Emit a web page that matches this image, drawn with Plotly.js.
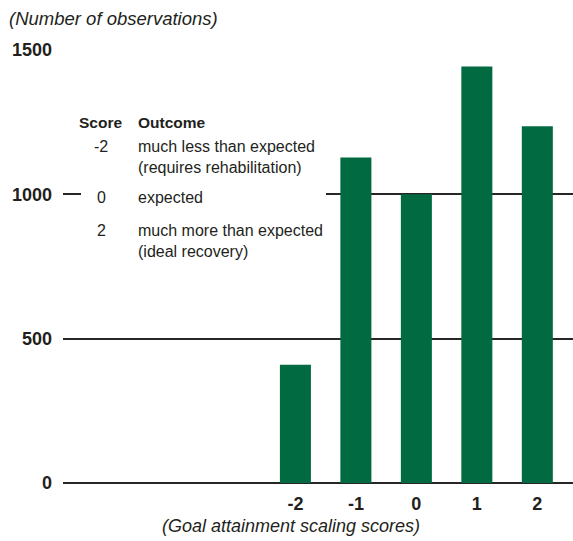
<!DOCTYPE html>
<html>
<head>
<meta charset="utf-8">
<script src="https://cdn.plot.ly/plotly-3.0.1.min.js"></script>
<style>html,body{margin:0;padding:0;background:#fff;}#chart{width:573px;height:541px;}</style>
</head>
<body>
<div id="chart"></div>
<script>
// Data
const scores = [-2, -1, 0, 1, 2];
const observations = [410, 1128, 1000, 1443, 1236];
const yTicks = [0, 500, 1000, 1500];
const yTickLabels = ['0', '500', '1000', '1500'];
const yTitle = '(Number of observations)';
const xTitle = '(Goal attainment scaling scores)';
const legendHeader = ['Score', 'Outcome'];
const legendScores = ['-2', '0', '2'];
const legendOutcomes = [
  ['much less than expected', '(requires rehabilitation)'],
  ['expected'],
  ['much more than expected', '(ideal recovery)']
];

const FONT = '"Liberation Sans", Arial, Helvetica, sans-serif';
const TXT = '#231f20';
const LINE = '#262626';
const W = 573, H = 541;
const M = {l: 63, r: 0, t: 50, b: 58};
const PW = W - M.l - M.r, PH = H - M.t - M.b;
const px = x => (x - M.l) / PW;
const py = y => (H - M.b - y) / PH;

const annotations = [];
function txt(text, x, y, opts) {
  annotations.push(Object.assign({
    text: text, xref: 'paper', yref: 'paper', x: px(x), y: py(y),
    xanchor: 'left', yanchor: 'middle', showarrow: false,
    font: {family: FONT, size: 16, color: TXT}
  }, opts || {}));
}
const bold = {family: FONT, size: 15.5, color: TXT};
// legend table
txt('<b>' + legendHeader[0] + '</b>', 100, 123, {xanchor: 'center', font: bold});
txt('<b>' + legendHeader[1] + '</b>', 136, 123, {font: bold});
const rowY = [[146, 167], [198], [230, 251]];
legendScores.forEach((s, i) => {
  txt(s, 101, rowY[i][0], {xanchor: 'center'});
  legendOutcomes[i].forEach((line, j) => txt(line, 136, rowY[i][j]));
});
// x axis title
annotations.push({
  text: '<i>' + xTitle + '</i>', xref: 'paper', yref: 'paper',
  x: px(291), y: py(526), xanchor: 'center', yanchor: 'middle', showarrow: false,
  font: {family: FONT, size: 18, color: TXT}
});

const trace = {
  type: 'bar', x: scores, y: observations, width: 0.513,
  marker: {color: '#016a41', line: {width: 0}},
  hoverinfo: 'x+y'
};

const layout = {
  width: W, height: H,
  margin: M,
  paper_bgcolor: '#fff', plot_bgcolor: '#fff',
  showlegend: false,
  title: {
    text: '<i>' + yTitle + '</i>', xref: 'container', yref: 'container',
    x: 9 / W, xanchor: 'left', y: 1 - 19 / H, yanchor: 'middle',
    font: {family: FONT, size: 18.5, color: TXT}
  },
  xaxis: {
    range: [-5.843, 2.59], tickmode: 'array', tickvals: scores,
    ticktext: scores.map(s => '<b>' + s + '</b>'),
    showgrid: false, zeroline: false, showline: false, ticks: '',
    tickfont: {family: FONT, size: 18, color: TXT},
    ticklabelstandoff: 8, fixedrange: true
  },
  yaxis: {
    range: [0, 1500], tickmode: 'array', tickvals: yTicks,
    ticktext: yTickLabels.map(s => '<b>' + s + '</b>'),
    showgrid: true, gridcolor: LINE, gridwidth: 2,
    zeroline: true, zerolinecolor: LINE, zerolinewidth: 2,
    showline: false, ticks: '',
    tickfont: {family: FONT, size: 18, color: TXT},
    ticklabelstandoff: 10, fixedrange: true
  },
  shapes: [{
    type: 'rect', xref: 'paper', yref: 'paper', layer: 'above',
    x0: px(81), x1: px(326), y0: py(265), y1: py(108),
    fillcolor: '#fff', line: {width: 0}
  }],
  annotations: annotations
};

Plotly.newPlot('chart', [trace], layout, {displayModeBar: false, staticPlot: true});
</script>
</body>
</html>
